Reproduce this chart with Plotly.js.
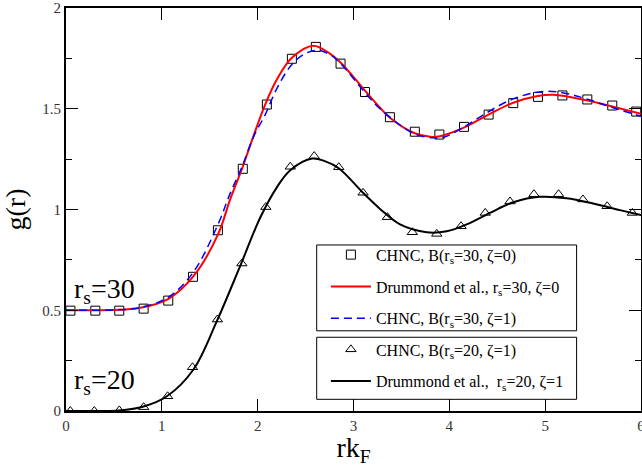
<!DOCTYPE html>
<html>
<head>
<meta charset="utf-8">
<script src="https://cdn.plot.ly/plotly-3.0.1.min.js"></script>
<style>html,body{margin:0;padding:0;background:#fff;}#chart{width:642px;height:467px;}</style>
</head>
<body>
<div id="chart"></div>
<script>
// CHNC, B(rs=30, zeta=0) — squares
const sqX = [0.046, 0.306, 0.556, 0.81, 1.067, 1.325, 1.585, 1.845, 2.096, 2.357, 2.607, 2.865, 3.12, 3.38, 3.64, 3.896, 4.153, 4.41, 4.667, 4.925, 5.18, 5.44, 5.70, 5.95];
const sqY = [0.498, 0.498, 0.498, 0.508, 0.548, 0.666, 0.897, 1.202, 1.521, 1.748, 1.807, 1.724, 1.583, 1.458, 1.386, 1.372, 1.41, 1.471, 1.528, 1.559, 1.566, 1.546, 1.516, 1.486];

// Drummond et al., rs=30, zeta=0 — red solid
const redX = [0, 0.3, 0.55, 0.775, 1.07, 1.33, 1.585, 1.713, 1.835, 1.956, 2.078, 2.2, 2.357, 2.58, 2.75, 2.865, 3.12, 3.277, 3.38, 3.625, 3.80, 3.903, 4.146, 4.39, 4.667, 4.91, 5.085, 5.43, 5.71, 6.0];
const redY = [0.5, 0.5, 0.502, 0.512, 0.557, 0.669, 0.875, 1.05, 1.2, 1.364, 1.521, 1.645, 1.753, 1.813, 1.775, 1.73, 1.59, 1.505, 1.455, 1.381, 1.361, 1.364, 1.405, 1.466, 1.53, 1.562, 1.569, 1.542, 1.51, 1.475];

// CHNC, B(rs=30, zeta=1) — blue dashed
const blueX = [0, 0.3, 0.55, 0.775, 1.07, 1.33, 1.585, 1.713, 1.835, 1.956, 2.078, 2.2, 2.357, 2.5, 2.62, 2.75, 2.865, 3.12, 3.277, 3.625, 3.833, 3.95, 4.146, 4.39, 4.667, 4.98, 5.22, 5.43, 5.71, 6.0];
const blueY = [0.5, 0.5, 0.502, 0.513, 0.565, 0.69, 0.925, 1.08, 1.21, 1.36, 1.47, 1.60, 1.72, 1.775, 1.79, 1.77, 1.725, 1.58, 1.5, 1.378, 1.356, 1.36, 1.408, 1.48, 1.549, 1.586, 1.576, 1.549, 1.505, 1.463];

// CHNC, B(rs=20, zeta=1) — triangles
const triX = [0.045, 0.295, 0.556, 0.81, 1.06, 1.32, 1.58, 1.835, 2.085, 2.34, 2.59, 2.846, 3.10, 3.354, 3.614, 3.869, 4.122, 4.375, 4.633, 4.883, 5.14, 5.394, 5.647, 5.91];
const triY = [0.0, 0.0, 0.003, 0.019, 0.073, 0.217, 0.454, 0.732, 1.012, 1.212, 1.265, 1.21, 1.083, 0.962, 0.887, 0.879, 0.917, 0.983, 1.04, 1.076, 1.076, 1.05, 1.016, 0.983];

// Drummond et al., rs=20, zeta=1 — black solid
const blackX = [0, 0.3, 0.55, 0.81, 1.053, 1.33, 1.574, 1.817, 2.026, 2.2, 2.34, 2.57, 2.7, 2.846, 3.1, 3.277, 3.486, 3.764, 3.973, 4.18, 4.424, 4.667, 4.946, 5.224, 5.5, 5.78, 6.0];
const blackY = [0, 0, 0.002, 0.022, 0.073, 0.206, 0.446, 0.719, 0.959, 1.11, 1.195, 1.253, 1.24, 1.205, 1.083, 1.003, 0.926, 0.887, 0.892, 0.926, 0.983, 1.036, 1.063, 1.056, 1.03, 0.997, 0.972];

const xTicks = [0, 1, 2, 3, 4, 5, 6];
const yTicks = [0, 0.5, 1, 1.5, 2];

const FONT = 'Liberation Serif, Times New Roman, serif';

const traces = [
  {x: sqX, y: sqY, mode: 'markers', type: 'scatter', name: 'CHNC, B(r<sub>s</sub>=30, ζ=0)',
   marker: {symbol: 'square-open', size: 9, color: '#000', line: {width: 1, color: '#000'}},
   legend: 'legend', legendgroup: 'a'},
  {x: redX, y: redY, mode: 'lines', type: 'scatter', name: 'Drummond et al., r<sub>s</sub>=30, ζ=0',
   line: {color: '#ff0000', width: 2, shape: 'spline', smoothing: 1},
   legend: 'legend', legendgroup: 'b'},
  {x: blueX, y: blueY, mode: 'lines', type: 'scatter', name: 'CHNC, B(r<sub>s</sub>=30, ζ=1)',
   line: {color: '#0000ff', width: 1.5, dash: '8px,5px', shape: 'spline', smoothing: 1},
   legend: 'legend', legendgroup: 'c'},
  {x: triX, y: triY, mode: 'markers', type: 'scatter', name: 'CHNC, B(r<sub>s</sub>=20, ζ=1)',
   marker: {symbol: 'triangle-up-open', size: 9, color: '#000', line: {width: 1, color: '#000'}},
   legend: 'legend2', legendgroup: 'd'},
  {x: blackX, y: blackY, mode: 'lines', type: 'scatter', name: 'Drummond et al.,  r<sub>s</sub>=20, ζ=1',
   line: {color: '#000', width: 2, shape: 'spline', smoothing: 1},
   legend: 'legend2', legendgroup: 'e'}
];

const legendCommon = {
  bgcolor: 'rgba(0,0,0,0)', borderwidth: 0,
  font: {family: FONT, size: 16, color: '#000'},
  xanchor: 'left', yanchor: 'top', tracegroupgap: 8, traceorder: 'grouped',
  itemwidth: 40
};

// legend frames (paper coordinates)
const box1 = {x0: 0.436, x1: 0.888, y0: 0.199, y1: 0.412};
const box2 = {x0: 0.436, x1: 0.888, y0: 0.029, y1: 0.183};

const layout = {
  width: 642, height: 467,
  margin: {l: 66, r: 1, t: 8, b: 56},
  paper_bgcolor: '#fff', plot_bgcolor: '#fff',
  font: {family: FONT, color: '#000'},
  showlegend: true,
  legend: Object.assign({}, legendCommon, {x: 0.452, y: 0.430}),
  legend2: Object.assign({}, legendCommon, {x: 0.452, y: 0.195}),
  shapes: [box1, box2].map(b => Object.assign({type: 'rect', xref: 'paper', yref: 'paper',
    fillcolor: '#fff', line: {color: '#000', width: 1}, layer: 'above'}, b)),
  xaxis: {
    range: [0, 6], tickvals: xTicks, ticktext: xTicks.map(String),
    ticks: 'inside', ticklen: 12, tickwidth: 1, tickcolor: '#000',
    showline: true, linecolor: '#000', linewidth: 2, mirror: 'allticks',
    showgrid: false, zeroline: false, ticklabeloverflow: 'allow',
    tickfont: {family: FONT, size: 15, color: '#333'},
    title: {text: 'rk<sub>F</sub>', font: {family: FONT, size: 28, color: '#000'}, standoff: 6}
  },
  yaxis: {
    range: [0, 2], tickvals: yTicks, ticktext: yTicks.map(String),
    ticks: 'inside', ticklen: 12, tickwidth: 1, tickcolor: '#000',
    minor: {dtick: 0.25, ticks: 'inside', ticklen: 6, tickwidth: 1, tickcolor: '#000'},
    showline: true, linecolor: '#000', linewidth: 2, mirror: 'allticks',
    showgrid: false, zeroline: false, ticklabeloverflow: 'allow',
    tickfont: {family: FONT, size: 15, color: '#333'},
    title: {text: 'g(r)', font: {family: FONT, size: 28, color: '#000'}, standoff: 8}
  },
  annotations: [
    {text: 'r<sub>s</sub>=30', x: 0.06, y: 0.60, xref: 'x', yref: 'y', xanchor: 'left', yanchor: 'middle',
     showarrow: false, font: {family: FONT, size: 28, color: '#000'}},
    {text: 'r<sub>s</sub>=20', x: 0.06, y: 0.145, xref: 'x', yref: 'y', xanchor: 'left', yanchor: 'middle',
     showarrow: false, font: {family: FONT, size: 28, color: '#000'}}
  ]
};

Plotly.newPlot('chart', traces, layout, {displayModeBar: false, staticPlot: true});
</script>
</body>
</html>
